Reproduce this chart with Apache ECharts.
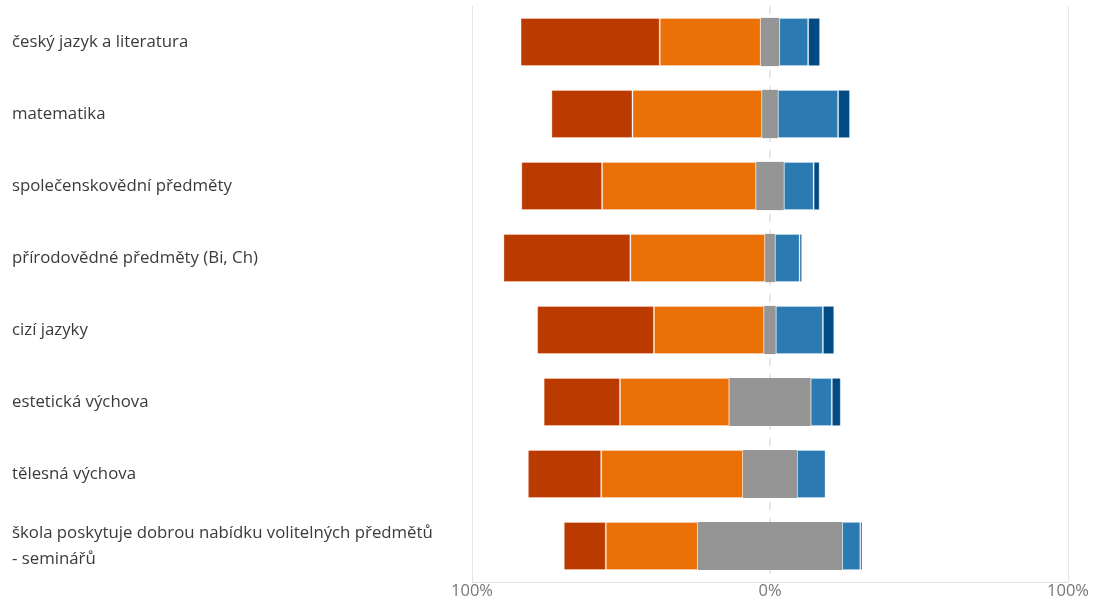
<!DOCTYPE html>
<html>
<head>
<meta charset="utf-8">
<script src="https://cdn.jsdelivr.net/npm/echarts@6/dist/echarts.min.js"></script>
<style>
html,body{margin:0;padding:0;background:#fff;}
#chart{width:1094px;height:601px;}
</style>
</head>
<body>
<div id="chart"></div>
<script>
const categories = [
  'český jazyk a literatura',
  'matematika',
  'společenskovědní předměty',
  'přírodovědné předměty (Bi, Ch)',
  'cizí jazyky',
  'estetická výchova',
  'tělesná výchova',
  'škola poskytuje dobrou nabídku volitelných předmětů - seminářů'
];
const veryNegative = [46.7, 27.2, 27.1, 42.6, 39.2, 25.6, 24.6, 14.1];
const negative     = [33.9, 43.5, 51.7, 45.2, 37.0, 36.7, 47.6, 30.9];
const neutral      = [6.2, 5.3, 9.3, 3.3, 3.9, 27.3, 18.1, 48.4];
const positive     = [9.7, 20.2, 10.0, 8.3, 15.8, 7.1, 9.6, 6.1];
const veryPositive = [4.0, 4.0, 2.0, 0.8, 3.8, 3.0, 0.2, 0.7];
const tickValues = [-100, 0, 100];

const colors = {
  vneg: '#BB3A00',
  neg: '#EB7005',
  neu: '#959595',
  pos: '#2B7AB1',
  vpos: '#024A84'
};

const border = {borderColor: 'rgba(255,255,255,0.3)', borderWidth: 1};
function mk(name, data, color, withBorder) {
  return {
    name: name,
    type: 'bar',
    stack: 'total',
    barCategoryGap: '33%',
    data: data,
    itemStyle: Object.assign({color: color}, withBorder ? border : {borderWidth: 0}),
    emphasis: {disabled: true}
  };
}

const chart = echarts.init(document.getElementById('chart'));
chart.setOption({
  animation: false,
  grid: {left: 472, right: 26, top: 6, bottom: 19, containLabel: false},
  xAxis: [{
    type: 'value',
    min: tickValues[0],
    max: tickValues[2],
    interval: 100,
    axisLine: {show: true, lineStyle: {color: '#e2e2e2', width: 1}},
    axisTick: {show: false},
    axisLabel: {
      color: '#777',
      fontSize: 16.5,
      fontFamily: 'Open Sans',
      margin: 1,
      formatter: v => Math.abs(v) + '%'
    },
    splitLine: {show: true, lineStyle: {color: ['#e6e6e6', 'rgba(0,0,0,0)', '#e6e6e6'], width: 1}}
  }, {
    type: 'value',
    min: tickValues[0],
    max: tickValues[2],
    interval: 100,
    position: 'top',
    axisLine: {show: false},
    axisTick: {show: false},
    axisLabel: {show: false},
    splitLine: {show: true, lineStyle: {color: ['rgba(0,0,0,0)', '#e6e6e6', 'rgba(0,0,0,0)'], width: 2, type: [8, 8]}}
  }],
  yAxis: {
    type: 'category',
    inverse: true,
    data: categories,
    axisLine: {show: false},
    axisTick: {show: false},
    axisLabel: {
      align: 'left',
      margin: 460,
      color: '#3a3a3a',
      fontSize: 16.8,
      fontFamily: 'Open Sans',
      lineHeight: 26,
      padding: [8, 0, 0, 0],
      formatter: v => v.replace(' - ', '\n- ')
    }
  },
  series: [
    mk('neutral-', neutral.map(v => -v / 2), colors.neu, false),
    mk('negative', negative.map(v => -v), colors.neg, true),
    mk('veryNegative', veryNegative.map(v => -v), colors.vneg, true),
    mk('neutral+', neutral.map(v => v / 2), colors.neu, false),
    mk('positive', positive, colors.pos, true),
    mk('veryPositive', veryPositive, colors.vpos, true)
  ]
});
</script>
</body>
</html>
